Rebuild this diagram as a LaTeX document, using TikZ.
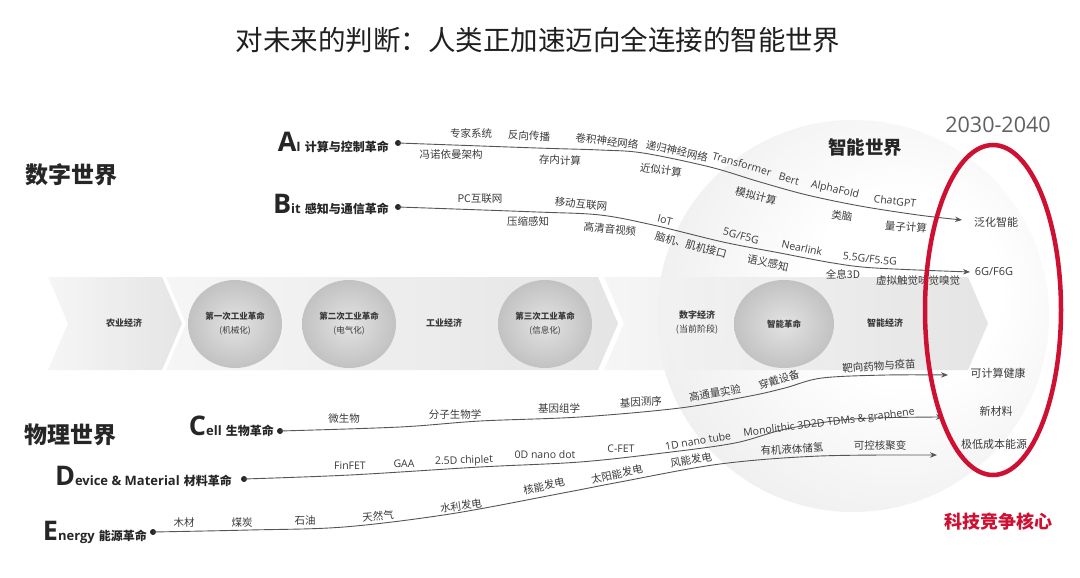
\documentclass[tikz,border=0pt]{standalone}
\usepackage{fontspec}
\setmainfont{Noto Sans CJK SC}
\newfontfamily\lat{Open Sans}
\usetikzlibrary{arrows.meta,shapes.geometric}
\definecolor{txt}{HTML}{3A3A3A}
\definecolor{ln}{HTML}{555555}
\definecolor{techred}{RGB}{206,16,50}
\newcommand{\initfont}{\lat\bfseries\fontsize{27}{27}\selectfont}
\newcommand{\restfont}{\lat\bfseries\fontsize{13}{13}\selectfont}
\pgfdeclareradialshading{sphereshade}{\pgfpoint{8bp}{4bp}}{color(0bp)=(white); color(12bp)=(white); color(30bp)=(black!6); color(50bp)=(black!16); color(75bp)=(black!16)}
\begin{document}
\begin{tikzpicture}[x=1pt,y=-1pt,
  lbl/.style={inner sep=0pt, text=txt, font=\fontsize{10.5}{12}\selectfont},
  llbl/.style={inner sep=0pt, text=txt, font=\lat\fontsize{10.5}{12}\selectfont},
  rlbl/.style={inner sep=0pt, text=txt, font=\fontsize{11}{13}\selectfont},
  bandtxt/.style={align=center, text=txt, font=\fontsize{9}{14}\selectfont, inner sep=0pt},
  bandcirc/.style={ellipse, minimum width=94pt, minimum height=88pt, inner sep=0pt,
     inner color=black!11, outer color=black!24, align=center, text=txt, font=\fontsize{8.5}{14}\selectfont},
  head/.style={anchor=base east, inner sep=0pt, text=black!85, font=\bfseries\fontsize{12}{14}\selectfont},
  dot/.style={circle, fill=black!85, inner sep=0pt, minimum size=6pt},
  conn/.style={draw=ln, line width=0.9pt, -{Stealth[length=7pt,width=5.5pt]}},
  world/.style={font=\bfseries\fontsize{23}{26}\selectfont, text=black!85, inner sep=0pt},
  chev/.style={left color=black!4, right color=black!12, draw=none, opacity=0.85},
]
\useasboundingbox (0,0) rectangle (1080,578);
\fill[white] (0,0) rectangle (1080,578);

% title
\node[font=\fontsize{27.5}{30}\selectfont, text=black!88, inner sep=0pt] (title) at (538,40) {对未来的判断：人类正加速迈向全连接的智能世界};

% sphere
\shade[shading=sphereshade] (853,316) circle [radius=196];

% band chevrons
\shade[chev] (48,277) -- (162,277) -- (182,323.5) -- (162,370) -- (48,370) -- (68,323.5) -- cycle;
\shade[chev] (166,277) -- (598,277) -- (618,323.5) -- (598,370) -- (166,370) -- (186,323.5) -- cycle;
\shade[chev] (604,277) -- (968,277) -- (988,323.5) -- (968,370) -- (604,370) -- (624,323.5) -- cycle;

% band content
\node[bandtxt] (agri) at (124,323) {\bfseries 农业经济};
\node[bandcirc] (ir1) at (235,324) {{\bfseries 第一次工业革命}\\(机械化)};
\node[bandcirc] (ir2) at (349,324) {{\bfseries 第二次工业革命}\\(电气化)};
\node[bandtxt] (indus) at (444,323) {\bfseries 工业经济};
\node[bandcirc] (ir3) at (545,324) {{\bfseries 第三次工业革命}\\(信息化)};
\node[bandtxt] (digi) at (697,322) {{\bfseries 数字经济}\\(当前阶段)};
\node[bandcirc, minimum width=100pt] (airev) at (784,324) {\bfseries 智能革命};
\node[bandtxt] (aiecon) at (885,323) {\bfseries 智能经济};

% world titles
\node[world] (digw) at (71,175) {数字世界};
\node[world] (phyw) at (70,435) {物理世界};
\node[inner sep=0pt, text=black!85, font=\bfseries\fontsize{18.5}{20}\selectfont] (smartw) at (865,147) {智能世界};
\node[inner sep=0pt, text=black!62, font=\lat\fontsize{21.5}{24}\selectfont] (years) at (998,125) {2030-2040};
\node[inner sep=0pt, text=techred, font=\bfseries\fontsize{18}{20}\selectfont] (core) at (998,522) {科技竞争核心};

% heads and dots
\node[head] (ahead) at (389,151) {{\initfont A}{\restfont I}\hspace{4pt}计算与控制革命};
\node[head] (bhead) at (389,213) {{\initfont B}{\restfont it}\hspace{4pt}感知与通信革命};
\node[head] (chead) at (274,435) {{\initfont C}{\restfont ell}\hspace{4pt}生物革命};
\node[head] (dhead) at (232,485) {{\initfont D}{\restfont evice \& Material}\hspace{4pt}材料革命};
\node[head] (ehead) at (147,540) {{\initfont E}{\restfont nergy}\hspace{4pt}能源革命};
\node[dot] (adot) at (398,143) {};
\node[dot] (bdot) at (398,207) {};
\node[dot] (cdot) at (280,431) {};
\node[dot] (ddot) at (244,479) {};
\node[dot] (edot) at (153,532) {};

% targets
\node[rlbl] (t1) at (996,222) {泛化智能};
\node[rlbl, font=\lat\fontsize{11}{13}\selectfont] (t2) at (994,272) {6G/F6G};
\node[rlbl] (t3) at (998,373) {可计算健康};
\node[rlbl] (t4) at (996,411) {新材料};
\node[rlbl] (t5) at (994,444) {极低成本能源};
\coordinate (aend) at (962,220);
\coordinate (bend) at (970,272);
\coordinate (cend) at (948,375);
\coordinate (dend) at (943,417);
\coordinate (eend) at (937,455);

% connectors
\draw[conn] plot[smooth, tension=0.55] coordinates {(adot.center) (537,148) (600,150) (643,153) (710,167) (760,182) (807,195) (860,206) (918,215) (aend)};
\draw[conn] plot[smooth, tension=0.55] coordinates {(bdot.center) (537,212) (600,215) (653,225) (723,242) (780,253) (833,263) (875,268) (bend)};
\draw[conn] plot[smooth, tension=0.55] coordinates {(cdot.center) (400,427) (480,421) (580,417) (680,408) (750,396) (785,388) (822,378) (887,375) (cend)};
\draw[conn] plot[smooth, tension=0.55] coordinates {(ddot.center) (350,475) (480,467) (580,462) (663,453) (735,443) (786,429) (853,419) (dend)};
\draw[conn] plot[smooth, tension=0.55] coordinates {(edot.center) (250,530) (344,527) (450,514) (563,493) (620,482) (720,464) (820,456) (eend)};

% A labels
\node[lbl] (a1) at (471,133) {专家系统};
\node[lbl, rotate=-3] (a2) at (529,136) {反向传播};
\node[lbl, rotate=-7] (a3) at (607,141) {卷积神经网络};
\node[lbl, rotate=-12] (a4) at (677,151) {递归神经网络};
\node[llbl, rotate=-16] (a5) at (742,164) {Transformer};
\node[llbl, rotate=-16] (a6) at (789,179) {Bert};
\node[llbl, rotate=-13] (a7) at (835,190) {AlphaFold};
\node[llbl, rotate=-7] (a8) at (895,201) {ChatGPT};
\node[lbl] (a9) at (451,155) {冯诺依曼架构};
\node[lbl, rotate=-2] (a10) at (560,160) {存内计算};
\node[lbl, rotate=-8] (a11) at (661,170) {近似计算};
\node[lbl, rotate=-15] (a12) at (756,196) {模拟计算};
\node[lbl, rotate=-8] (a13) at (842,216) {类脑};
\node[lbl, rotate=-5] (a14) at (906,227) {量子计算};

% B labels
\node[lbl] (b1) at (480,199) {PC互联网};
\node[lbl, rotate=-5] (b2) at (581,204) {移动互联网};
\node[llbl, rotate=-15] (b3) at (665,220) {IoT};
\node[llbl, rotate=-15] (b4) at (741,236) {5G/F5G};
\node[llbl, rotate=-12] (b5) at (802,248) {Nearlink};
\node[llbl, rotate=-6] (b6) at (870,259) {5.5G/F5.5G};
\node[lbl] (b7) at (528,221) {压缩感知};
\node[lbl, rotate=-6] (b8) at (610,229) {高清音视频};
\node[lbl, rotate=-15] (b9) at (691,245) {脑机、肌机接口};
\node[lbl, rotate=-12] (b10) at (768,263) {语义感知};
\node[lbl] (b11) at (843,274) {全息3D};
\node[lbl] (b12) at (918,281) {虚拟触觉味觉嗅觉};

% C labels
\node[lbl] (c1) at (344,419) {微生物};
\node[lbl] (c2) at (455,414) {分子生物学};
\node[lbl] (c3) at (559,408) {基因组学};
\node[lbl, rotate=3] (c4) at (641,402) {基因测序};
\node[lbl, rotate=10] (c5) at (715,393) {高通量实验};
\node[lbl, rotate=17] (c6) at (779,380) {穿戴设备};
\node[lbl, rotate=4] (c7) at (879,366) {靶向药物与疫苗};

% D labels
\node[llbl] (d1) at (350,466) {FinFET};
\node[llbl] (d2) at (404,464) {GAA};
\node[llbl, rotate=2] (d3) at (464,461) {2.5D chiplet};
\node[llbl] (d4) at (545,455) {0D nano dot};
\node[llbl] (d5) at (621,449) {C-FET};
\node[llbl, rotate=10] (d6) at (698,441) {1D nano tube};
\node[llbl, rotate=7] (d7) at (829,423) {Monolithic 3D2D TDMs \& graphene};

% E labels
\node[lbl] (e1) at (184,523) {木材};
\node[lbl] (e2) at (242,523) {煤炭};
\node[lbl] (e3) at (305,521) {石油};
\node[lbl, rotate=4] (e4) at (378,516) {天然气};
\node[lbl, rotate=8] (e5) at (461,506) {水利发电};
\node[lbl, rotate=12] (e6) at (544,486) {核能发电};
\node[lbl, rotate=12] (e7) at (617,474) {太阳能发电};
\node[lbl, rotate=10] (e8) at (691,460) {风能发电};
\node[lbl, rotate=3] (e9) at (792,449) {有机液体储氢};
\node[lbl] (e10) at (880,446) {可控核聚变};

% red ellipse
\draw[draw=techred, line width=4.5pt] (993,310) ellipse [x radius=68, y radius=165];
\end{tikzpicture}
\end{document}
